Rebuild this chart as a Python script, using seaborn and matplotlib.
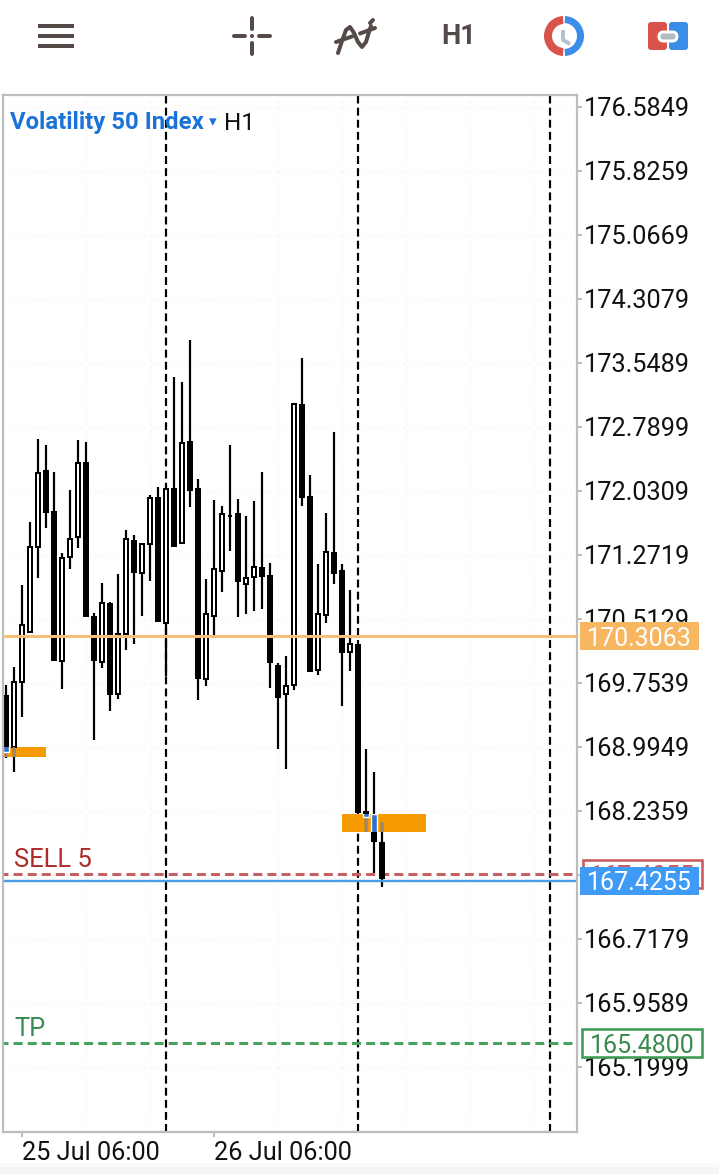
import numpy as np
import pandas as pd
import matplotlib
matplotlib.use("Agg")
import matplotlib.pyplot as plt
import seaborn as sns
from matplotlib.patches import Rectangle, Circle, Wedge, FancyBboxPatch
from matplotlib.transforms import blended_transform_factory

opens = [169.612,168.991,169.770,170.363,171.371,172.280,171.794,170.015,171.252,171.482,172.371,170.549,169.999,170.699,169.620,170.331,171.450,171.055,171.403,171.960,170.462,172.063,171.410,172.620,172.063,169.802,170.549,171.082,171.738,171.766,170.924,171.007,171.126,171.031,169.968,169.620,169.726,173.063,171.968,169.904,170.561,171.304,171.090,170.122,170.216,168.240,168.200,167.865]
highs = [169.730,169.940,170.916,171.659,172.648,172.577,172.252,171.292,172.043,172.636,172.608,170.580,170.936,170.710,171.047,171.569,171.505,171.410,171.984,172.075,172.063,173.379,173.320,173.822,172.169,170.987,171.924,171.853,172.577,171.936,171.735,171.912,172.252,171.173,169.987,170.074,173.071,173.608,172.221,171.165,171.774,172.731,171.165,170.857,170.220,168.967,168.699,168.102]
lows = [168.861,168.703,169.355,170.343,171.003,171.596,170.019,169.687,171.102,171.359,170.533,169.078,169.928,169.426,169.568,170.145,170.217,170.553,170.968,170.481,169.841,171.371,171.410,171.845,169.552,169.722,170.323,170.837,171.323,170.541,170.572,170.608,170.636,169.699,168.975,168.738,169.671,171.857,169.889,169.853,170.470,170.932,169.485,169.900,168.208,167.991,167.497,167.339]
closes = [168.940,169.770,170.442,171.371,172.248,171.766,170.019,171.240,171.466,172.359,170.541,170.019,170.707,169.616,170.331,171.466,171.063,171.406,171.944,170.481,172.059,171.371,172.604,172.035,169.798,170.576,171.110,171.762,171.740,170.956,171.003,171.134,171.015,169.987,169.580,169.722,173.067,171.952,169.889,170.576,171.312,171.051,170.106,170.220,168.208,168.169,167.865,167.4255]

price_tick_values = [176.5849,175.8259,175.0669,174.3079,173.5489,172.7899,172.0309,171.2719,170.5129,169.7539,168.9949,168.2359,167.4769,166.7179,165.9589,165.1999]
price_tick_labels = ["176.5849","175.8259","175.0669","174.3079","173.5489","172.7899","172.0309","171.2719","170.5129","169.7539","168.9949","168.2359","","166.7179","165.9589","165.1999"]
date_labels = ["25 Jul 06:00", "26 Jul 06:00"]
date_positions = [2, 26]
period_separators = [20, 44, 68]
grid_positions = list(range(2, 72, 8))
zones = [(-0.4, 5.0, 168.880, 168.999), (42.0, 52.5, 167.991, 168.200)]
bid = 170.3063
ask = 167.41
sell_price = 167.4855
tp_price = 165.4800

W, H = 719, 1174
sns.set_theme(style="white")
plt.rcParams["font.family"] = ["Roboto", "DejaVu Sans"]
fig = plt.figure(figsize=(W/100, H/100), dpi=100, facecolor="white")
ax = fig.add_axes([3/W, 1-1132/H, (577-3)/W, (1132-95)/H])
PX = 0.72  # points per pixel

df = pd.DataFrame(dict(idx=np.arange(len(opens)), o=opens, h=highs, l=lows, c=closes))
df["top"] = df[["o", "c"]].max(axis=1)
df["bot"] = df[["o", "c"]].min(axis=1)
df["height"] = df["top"] - df["bot"]
df["up"] = df["c"] > df["o"]

for x0, x1, y0, y1 in zones:
    ax.add_patch(Rectangle((x0, y0), x1-x0, y1-y0, fc="#f79a00", ec="none", zorder=1.2))

wick = df.melt(id_vars="idx", value_vars=["h", "l"], value_name="price")
sns.lineplot(data=wick, x="idx", y="price", units="idx", estimator=None, color="black",
             lw=2.2*PX, solid_capstyle="butt", ax=ax, zorder=1.5, legend=False)

black = df[~df.up]
white = df[df.up]
sns.barplot(data=black, x="idx", y="height", bottom=black["bot"].values, native_scale=True, orient="x",
            width=0.75, color="black", saturation=1, errorbar=None, ax=ax, zorder=2, linewidth=0)
sns.barplot(data=white, x="idx", y="height", bottom=white["bot"].values, native_scale=True, orient="x",
            width=0.55, color="white", saturation=1, errorbar=None, ax=ax, zorder=2,
            edgecolor="black", linewidth=2.0*PX)

for x0, x1, y0, y1 in zones:
    clip = Rectangle((x0, y0), x1-x0, y1-y0, transform=ax.transData)
    sel = df[(df.idx > x0) & (df.idx < x1)]
    for r in sel.itertuples():
        ln = ax.vlines(r.idx, r.l, r.h, color="#8f8a80", lw=2.2*PX, zorder=2.2)
        ln.set_clip_path(clip)
        if not r.up:
            b = ax.bar(r.idx, r.height, bottom=r.bot, width=0.75, color="#2f6fd0", zorder=2.3)
            for p in b:
                p.set_clip_path(clip)

ax.vlines(period_separators, 0, 1, transform=ax.get_xaxis_transform(), color="black", lw=2.2*PX,
          linestyles=[(0, (3.6, 1.9))], zorder=1.1)

sns.lineplot(x=[-1, 72], y=[bid, bid], color="#f5bf7a", lw=3*PX, ax=ax, zorder=2.6)
sns.lineplot(x=[-1, 72], y=[sell_price, sell_price], color="#c9605f", lw=3*PX, ax=ax, zorder=1.6, linestyle=(0, (3, 1.7)))
sns.lineplot(x=[-1, 72], y=[ask, ask], color="#4a9be8", lw=2.4*PX, ax=ax, zorder=1.7)
sns.lineplot(x=[-1, 72], y=[tp_price, tp_price], color="#47a35c", lw=3*PX, ax=ax, zorder=1.7, linestyle=(0, (3, 1.7)))

ax.set_xlim((3-6)/8, (577-6)/8)
ax.set_ylim(164.429, 176.727)
ax.set_xlabel("")
ax.set_ylabel("")

for s in ax.spines.values():
    s.set_color("#bdbdbd")
    s.set_linewidth(2.2*PX)
ax.set_axisbelow(True)
ax.yaxis.tick_right()
ax.set_yticks(price_tick_values, price_tick_labels)
ax.set_xticks(date_positions, date_labels)
ax.set_xticks(grid_positions, minor=True)
ax.tick_params(axis="y", which="major", length=3.6, width=1.4, color="#bdbdbd", labelsize=18.2, labelcolor="#111111", pad=1.5, right=True)
ax.tick_params(axis="x", which="major", length=3.6, width=1.4, color="#bdbdbd", labelsize=18.2, labelcolor="#111111", pad=3, bottom=True)
ax.tick_params(axis="x", which="minor", length=0)
for t in ax.get_xticklabels():
    t.set_ha("left")
ax.grid(True, axis="y", which="major", color="#f6f6f6", lw=1.4*PX, ls=(0, (2, 3)))
ax.grid(True, axis="x", which="minor", color="#f6f6f6", lw=1.4*PX, ls=(0, (2, 3)))
ax.grid(False, axis="x", which="major")

tr = blended_transform_factory(ax.transAxes, ax.transData)
ppx = (176.727-164.429)/(1132-95)
def xf(px):
    return (px-3)/574
def price_box(price, x0, x1, hgt, fc, ec, tc, label, z, lw=0):
    ax.add_patch(Rectangle((xf(x0), price-hgt/2*ppx), xf(x1)-xf(x0), hgt*ppx, transform=tr, fc=fc, ec=ec,
                           lw=lw, clip_on=False, zorder=z))
    ax.text(xf(x0+(x1-x0)/2), price, label, transform=tr, ha="center", va="center_baseline", color=tc,
            fontsize=18, clip_on=False, zorder=z+0.1)

price_box(bid, 580, 699, 28, "#f7b65f", "none", "white", "170.3063", 6)
price_box(sell_price, 583, 702, 28, "white", "#cb5a60", "#cb5a60", "167.4855", 6, lw=2.6*PX)
price_box(ask, 580, 699, 28, "#3f9bf5", "none", "white", "167.4255", 7)
price_box(tp_price, 582, 702, 28, "white", "#3f9a55", "#3a8a4d", "165.4800", 6, lw=2.6*PX)

ov = fig.add_axes([0, 0, 1, 1], facecolor="none")
ov.set_xlim(0, W)
ov.set_ylim(H, 0)
ov.axis("off")
ov.text(10, 123, "Volatility 50 Index", color="#1a73d8", fontsize=17.2, fontweight="bold", va="center", family="Roboto")
ov.text(213, 122, "▾", color="#1a73d8", fontsize=11, va="center", ha="center", family="DejaVu Sans")
ov.text(224, 123, "H1", color="#111111", fontsize=17.5, va="center", family="Roboto")
ov.text(14, 860, "SELL 5", color="#b02a2a", fontsize=18.4, va="center")
ov.text(14, 1029, "TP", color="#3a8a4d", fontsize=18.4, va="center")

ic = "#544a47"
for y in (26, 36, 46):
    ov.plot([38, 74], [y, y], color=ic, lw=4*PX, solid_capstyle="butt")
for xs, ys in (([252, 252], [18, 29]), ([252, 252], [43, 54]), ([234, 245], [36, 36]), ([259, 270], [36, 36])):
    ov.plot(xs, ys, color=ic, lw=4*PX, solid_capstyle="round")
ov.add_patch(Circle((252, 36), 2, fc=ic, ec="none"))
ov.plot([336, 352], [42, 36.5], color=ic, lw=4*PX, solid_capstyle="round")
ov.plot([360, 375], [33.5, 28], color=ic, lw=4*PX, solid_capstyle="round")
ov.plot([338, 342, 346, 350, 354, 358, 362, 366, 369, 371], [53, 41, 30, 27, 33, 42, 47, 42, 32, 26], color=ic, lw=4*PX, solid_capstyle="round")
ov.plot([370, 373], [23, 20], color=ic, lw=4*PX, solid_capstyle="round")
ov.text(459, 36, "H1", color=ic, fontsize=19.5, fontweight="bold", ha="center", va="center", family="Roboto")
ov.add_patch(Wedge((564, 36), 20, 93, 267, width=8, fc="#d9534a", ec="none"))
ov.add_patch(Wedge((564, 36), 20, -87, 87, width=7, fc="#3a8ee8", ec="none"))
ov.plot([563, 563, 570], [30, 40, 44], color="#b5c2cc", lw=4*PX, solid_capstyle="butt")
ov.add_patch(FancyBboxPatch((648, 22), 19, 28, boxstyle="round,pad=0,rounding_size=3", fc="#d9534a", ec="none"))
ov.add_patch(FancyBboxPatch((669, 22), 19, 28, boxstyle="round,pad=0,rounding_size=3", fc="#3a8ee8", ec="none"))
ov.add_patch(FancyBboxPatch((659, 32), 18, 9, boxstyle="round,pad=0,rounding_size=4.5", fc="#b3babf", ec="white", lw=3*PX))
ov.add_patch(Rectangle((0, 1163), W, 4, fc="#fbfbfb", ec="none"))
ov.add_patch(Rectangle((0, 1167), W, 7, fc="#f5f5f5", ec="none"))

fig.savefig("out.png", dpi=100)
